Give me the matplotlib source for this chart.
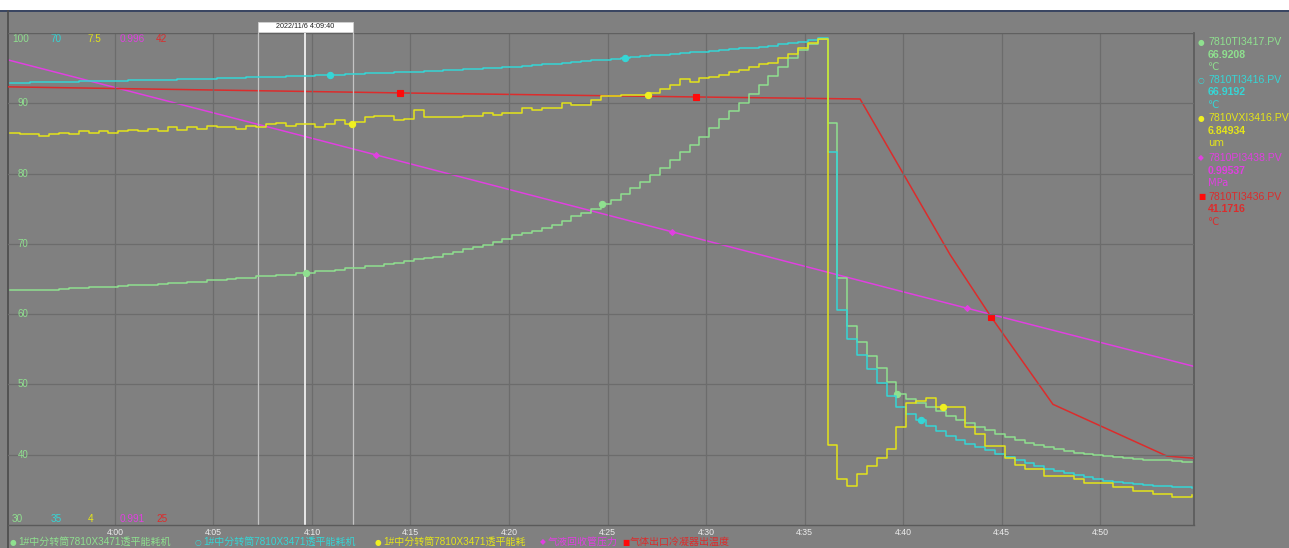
import numpy as np
import matplotlib
matplotlib.use("Agg")
import matplotlib.pyplot as plt
import matplotlib.transforms as mtransforms

plt.rcParams['font.family'] = ['Liberation Sans', 'Noto Sans CJK SC', 'DejaVu Sans']

# ---------------- data ----------------
# sample times: minutes after 4:00, one sample every 30 s
t_first = -5.333
t_step = 0.5

green = [63.4, 63.4, 63.4, 63.5, 63.5, 63.6, 63.7, 63.7, 63.8, 63.9,
         63.9, 64.0, 64.1, 64.1, 64.2, 64.3, 64.4, 64.5, 64.6, 64.6,
         64.8, 64.9, 65.0, 65.1, 65.2, 65.4, 65.4, 65.6, 65.6, 65.8,
         65.9, 66.1, 66.2, 66.3, 66.5, 66.6, 66.8, 66.9, 67.1, 67.3,
         67.5, 67.8, 68.0, 68.2, 68.5, 68.9, 69.2, 69.6, 69.9, 70.3,
         70.7, 71.2, 71.6, 71.9, 72.3, 72.7, 73.3, 73.9, 74.4, 75.0,
         75.6, 76.3, 77.1, 78.0, 78.8, 79.8, 80.8, 82.0, 83.0, 84.1,
         85.2, 86.5, 87.8, 88.9, 90.1, 91.3, 92.6, 93.9, 95.2, 96.5,
         97.6, 98.4, 99.1,
         87.2, 65.2, 58.3, 56.1, 54.1, 52.3, 50.4,
         48.7, 47.9, 47.3, 46.8, 46.2, 45.5, 44.9, 44.5, 43.9, 43.5,
         42.9, 42.5, 42.1, 41.7, 41.4, 41.1, 40.8, 40.5, 40.3, 40.1,
         39.9, 39.8, 39.7, 39.5, 39.4, 39.3, 39.2, 39.2, 39.1, 39.0, 38.9]

cyan = [66.45, 66.46, 66.48, 66.50, 66.51, 66.53, 66.54, 66.56, 66.57, 66.58,
        66.60, 66.61, 66.63, 66.64, 66.66, 66.67, 66.68, 66.70, 66.71, 66.73,
        66.76, 66.78, 66.80, 66.82, 66.84, 66.86, 66.88, 66.90, 66.93, 66.95,
        66.97, 66.99, 67.01, 67.04, 67.07, 67.09, 67.12, 67.14, 67.17, 67.20,
        67.22, 67.25, 67.28, 67.31, 67.34, 67.37, 67.41, 67.44, 67.48, 67.52,
        67.56, 67.61, 67.66, 67.71, 67.76, 67.82, 67.88, 67.94, 68.00, 68.05,
        68.11, 68.18, 68.23, 68.29, 68.35, 68.40, 68.46, 68.52, 68.57, 68.62,
        68.67, 68.72, 68.78, 68.84, 68.90, 68.96, 69.02, 69.11, 69.19, 69.29,
        69.38, 69.50, 69.65,
        61.55, 50.26, 48.20, 47.07, 46.07, 45.08, 44.16,
        43.37, 42.88, 42.45, 42.03, 41.67, 41.32, 41.03, 40.75, 40.54, 40.32,
        40.04, 39.83, 39.62, 39.40, 39.19, 38.97, 38.83, 38.69, 38.55, 38.41,
        38.26, 38.16, 38.05, 37.98, 37.91, 37.84, 37.80, 37.77, 37.73, 37.70, 37.62]

yellow = [6.79, 6.78, 6.78, 6.77, 6.78, 6.79, 6.78, 6.80, 6.79, 6.80,
          6.79, 6.80, 6.81, 6.80, 6.82, 6.80, 6.83, 6.81, 6.83, 6.82,
          6.84, 6.83, 6.83, 6.82, 6.84, 6.83, 6.85, 6.86, 6.84, 6.85,
          6.85, 6.83, 6.85, 6.88, 6.85, 6.87, 6.90, 6.91, 6.91, 6.88,
          6.89, 6.95, 6.90, 6.90, 6.90, 6.90, 6.91, 6.91, 6.93, 6.92,
          6.93, 6.93, 6.97, 6.95, 6.97, 6.97, 7.00, 6.99, 6.99, 7.02,
          7.05, 7.05, 7.06, 7.06, 7.06, 7.07, 7.10, 7.13, 7.17, 7.15,
          7.18, 7.19, 7.20, 7.22, 7.24, 7.26, 7.28, 7.29, 7.32, 7.35,
          7.39, 7.43, 7.46,
          4.57, 4.33, 4.28, 4.36, 4.42, 4.48, 4.54,
          4.70, 4.87, 4.88, 4.90, 4.84, 4.84, 4.84, 4.70, 4.65, 4.56,
          4.56, 4.48, 4.43, 4.40, 4.40, 4.35, 4.35, 4.35, 4.33, 4.30,
          4.30, 4.30, 4.27, 4.27, 4.24, 4.24, 4.22, 4.22, 4.20, 4.20, 4.21]

magenta_t = [-5.5, 10.0, 25.0, 40.0, 55.0]
magenta = [0.99573, 0.99493, 0.99415, 0.99337, 0.99260]

red_t = [-5.48, 14.47, 29.49, 37.82, 42.39, 44.42, 47.61, 53.40, 54.72]
red = [40.14, 39.93, 39.79, 39.72, 34.34, 32.24, 29.17, 27.38, 27.31]

# scale (bottom, top) of each pen
green_scale = (30, 100)
cyan_scale = (35, 70)
yellow_scale = (4, 7.5)
magenta_scale = (0.991, 0.996)
red_scale = (25, 42)

scale_top_labels = ["100", "70", "7.5", "0.996", "42"]
scale_bottom_labels = ["30", "35", "4", "0.991", "25"]
grid_values = [40, 50, 60, 70, 80, 90]

tick_minutes = [0, 5, 10, 15, 20, 25, 30, 35, 40, 45, 50]
tick_labels = ["4:00", "4:05", "4:10", "4:15", "4:20", "4:25", "4:30",
               "4:35", "4:40", "4:45", "4:50"]

# marker times (first marker of each pen, then every 15 min)
marker_first = [9.7, 10.9, 12.05, 13.25, 14.47]
marker_every = 15.0

cursor_t = 9.667
cursor_label = "2022/11/6 4:09:40"
zoom_box = (7.26, 12.08)

tags = ["7810TI3417.PV", "7810TI3416.PV", "7810VXI3416.PV", "7810PI3438.PV", "7810TI3436.PV"]
tag_values = ["66.9208", "66.9192", "6.84934", "0.99537", "41.1716"]
tag_units = ["℃", "℃", "um", "MPa", "℃"]
legend_names = ["1#中分转筒7810X3471透平能耗机", "1#中分转筒7810X3471透平能耗机",
                "1#中分转筒7810X3471透平能耗", "气液回收管压力", "气体出口冷凝器出温度"]

# ---------------- style ----------------
BG = "#808080"
GRID = "#6c6c6c"
C_GREEN = "#8fe08f"
C_CYAN = "#35d6d6"
C_YELLOW = "#e4e41a"
C_MAGENTA = "#e040e0"
C_RED = "#dc2c2c"
colors = [C_GREEN, C_CYAN, C_YELLOW, C_MAGENTA, C_RED]
marker_colors = [C_GREEN, C_CYAN, "#f0f020", C_MAGENTA, "#ff0a0a"]
marker_sym = ["o", "o", "o", "D", "s"]
legend_sym = ["●", "○", "●", "◆", "■"]

W, H = 1289, 548
fig = plt.figure(figsize=(W / 100, H / 100), dpi=100, facecolor=BG)

# white strip on top + dark lines
fig.patches.append(plt.Rectangle((0, (H - 10) / H), 1, 10 / H, transform=fig.transFigure,
                                 facecolor="white", edgecolor="none", zorder=0))
fig.lines.append(plt.Line2D([0, 1], [(H - 10.5) / H] * 2, transform=fig.transFigure,
                            color="#2d3b5c", lw=1.2))
fig.lines.append(plt.Line2D([7.5 / W] * 2, [0, (H - 10.5) / H], transform=fig.transFigure,
                            color="#4a4a4a", lw=1.2))

left, right, top, bottom = 8, 1194, 33, 525
rect = [left / W, (H - bottom) / H, (right - left) / W, (bottom - top) / H]
ax = fig.add_axes(rect)
ax.patch.set_visible(False)
ax.set_zorder(1)
ax.set_xlim(-5.43, 54.77)
ax.set_ylim(*green_scale)
for s in ["top", "right", "left"]:
    ax.spines[s].set_visible(False)
ax.spines["bottom"].set_color("#5a5a5a")
ax.spines["bottom"].set_linewidth(1.0)
ax.axhline(green_scale[1], color="#606060", lw=1.0)

ax.set_xticks(tick_minutes)
ax.set_xticklabels(tick_labels, fontsize=6.3, color="#ececec")
ax.tick_params(axis="x", length=0, pad=2)
ax.set_yticks([])
for v in grid_values:
    ax.axhline(v, color=GRID, lw=0.9, zorder=1)
for m in tick_minutes:
    ax.axvline(m, color=GRID, lw=0.9, zorder=1)

blend = mtransforms.blended_transform_factory(ax.transAxes, ax.transData)
for v in grid_values:
    ax.text(0.008, v, str(v), transform=blend, fontsize=7, color=C_GREEN,
            ha="left", va="center", zorder=6)

# right boundary line
fig.lines.append(plt.Line2D([right / W] * 2, [(H - bottom) / H, (H - top) / H],
                            transform=fig.transFigure, color="#5a5a5a", lw=1.2))

# cursor / zoom box
ax.axvline(zoom_box[0], color="#c4c4c4", lw=0.9, zorder=2)
ax.axvline(zoom_box[1], color="#c4c4c4", lw=0.9, zorder=2)
ax.axvline(cursor_t, color="#f0f0f0", lw=1.3, zorder=2)

times = t_first + t_step * np.arange(len(green))

pens = [(green, green_scale, True), (cyan, cyan_scale, True), (yellow, yellow_scale, True),
        (magenta, magenta_scale, False), (red, red_scale, False)]
axes_list = [ax]
for i in range(4):
    a = ax.twinx()
    a.set_ylim(*pens[i + 1][1])
    a.set_yticks([])
    for s in a.spines.values():
        s.set_visible(False)
    a.patch.set_visible(False)
    axes_list.append(a)

order = [3, 4, 0, 1, 2]
for rank, i in enumerate(order):
    vals, sc, stepped = pens[i]
    a = axes_list[i]
    a.set_zorder(2 + rank)
    mt = marker_first[i] + marker_every * np.arange(3)
    if stepped:
        arr = np.asarray(vals)
        a.plot(times, arr, drawstyle="steps-post", color=colors[i], lw=1.1)
        idx = np.searchsorted(times, mt, side="right") - 1
        mv = arr[idx]
    else:
        tt = magenta_t if i == 3 else red_t
        a.plot(tt, vals, color=colors[i], lw=1.1)
        mv = np.interp(mt, tt, vals)
    ms = 4.5
    if marker_sym[i] == "D":
        ms = 3.0
    if i == 4:
        ms = 5
    a.plot(mt, mv, ls="none", marker=marker_sym[i], ms=ms, mfc=marker_colors[i],
           mec=marker_colors[i], mew=0.8)
    a.set_xlim(-5.43, 54.77)
    a.set_ylim(*sc)

# scale labels top/bottom
label_x = [12, 51, 88, 120, 156]
for i in range(5):
    fig.text(label_x[i] / W, (H - 39) / H, scale_top_labels[i], fontsize=7.2,
             color=colors[i], ha="left", va="center")
    fig.text(label_x[i] / W, (H - 519) / H, scale_bottom_labels[i], fontsize=7.2,
             color=colors[i], ha="left", va="center")

# cursor label box
fig.patches.append(plt.Rectangle((258 / W, (H - 32) / H), 95 / W, 10 / H,
                                 transform=fig.transFigure, facecolor="white",
                                 edgecolor="#d0d0d0", lw=0.6, zorder=5))
fig.text(305.5 / W, (H - 27) / H, cursor_label, fontsize=5.2, color="#202020",
         ha="center", va="center", zorder=6)

# right panel
rows_y = [42, 80, 118, 158, 197]
for i in range(5):
    y0 = rows_y[i]
    fig.text(1198 / W, (H - y0) / H, legend_sym[i], fontsize=5.5, color=marker_colors[i],
             ha="left", va="center", family=["DejaVu Sans"])
    fig.text(1208 / W, (H - y0) / H, tags[i], fontsize=7.6, color=colors[i],
             ha="left", va="center")
    fig.text(1208 / W, (H - y0 - 12.5) / H, tag_values[i], fontsize=7.6, color=colors[i],
             ha="left", va="center", fontweight="bold")
    fig.text(1208 / W, (H - y0 - 25) / H, tag_units[i], fontsize=7.2, color=colors[i],
             ha="left", va="center", family=["DejaVu Sans"])

# bottom legend
leg_x = [10, 195, 375, 540, 622]
for i in range(5):
    fig.text(leg_x[i] / W, (H - 542) / H, legend_sym[i], fontsize=5.5, color=marker_colors[i],
             ha="left", va="center", family=["DejaVu Sans"])
    fig.text((leg_x[i] + 8) / W, (H - 542) / H, legend_names[i], fontsize=7.2,
             color=colors[i], ha="left", va="center")

fig.savefig("out.png", dpi=100, facecolor=BG)
